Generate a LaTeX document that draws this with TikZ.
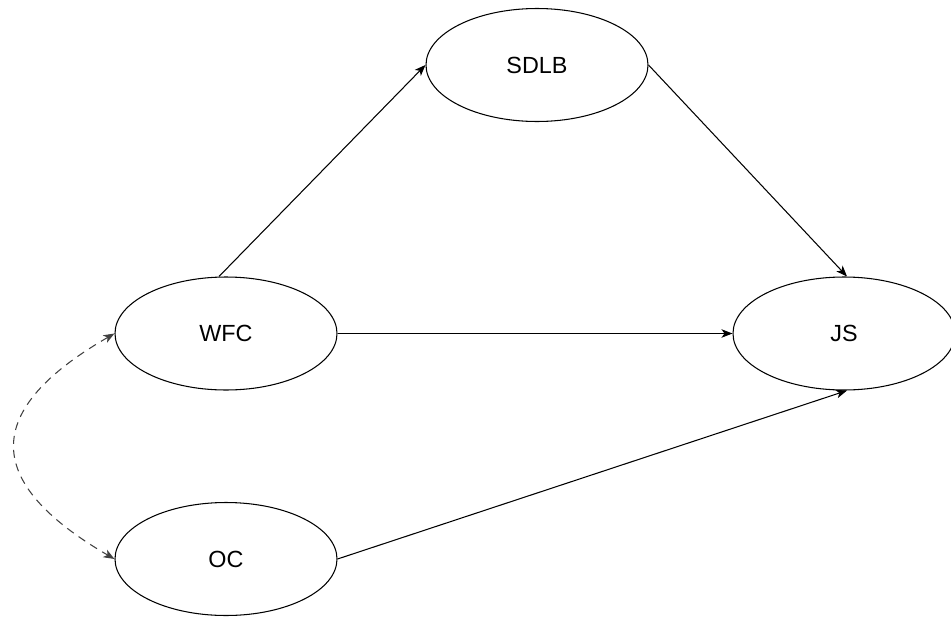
\documentclass[tikz,border=0pt]{standalone}
\usepackage{fontspec}
\setmainfont{Liberation Sans}
\usetikzlibrary{arrows.meta,shapes.geometric}
\begin{document}
\begin{tikzpicture}[
    construct/.style={ellipse, draw, line width=0.6pt, minimum width=4.44cm,
      minimum height=2.26cm, inner sep=0pt, font=\fontsize{13.3}{16}\selectfont},
    path/.style={line width=0.6pt, -{Stealth[length=0.22cm, width=0.17cm, inset=0.06cm]}},
    corr/.style={path, {Stealth[length=0.22cm, width=0.17cm, inset=0.06cm]}-{Stealth[length=0.22cm, width=0.17cm, inset=0.06cm]},
      dash pattern=on 0.16cm off 0.12cm, draw=black!75}
  ]
  \useasboundingbox (0,0) rectangle (19.02,12.34);

  % Constructs
  \node[construct] (sdlb) at (10.74,11.04) {SDLB};
  \node[construct] (wfc) at (4.52,5.67) {WFC};
  \node[construct] (js) at (16.88,5.67) {JS};
  \node[construct] (oc) at (4.52,1.16) {OC};

  % Direct and mediated paths
  \draw[path] ([xshift=-0.14cm]wfc.north) -- (sdlb.west);
  \draw[path] (sdlb.east) -- ([xshift=0.06cm]js.north);
  \draw[path] (wfc.east) -- (js.west);
  \draw[path] (oc.east) -- ([xshift=0.06cm]js.south);

  % Correlation between the predictors
  \draw[corr] (wfc.west) .. controls (-0.36,4.14) and (-0.36,2.70) .. (oc.west);
\end{tikzpicture}
\end{document}
